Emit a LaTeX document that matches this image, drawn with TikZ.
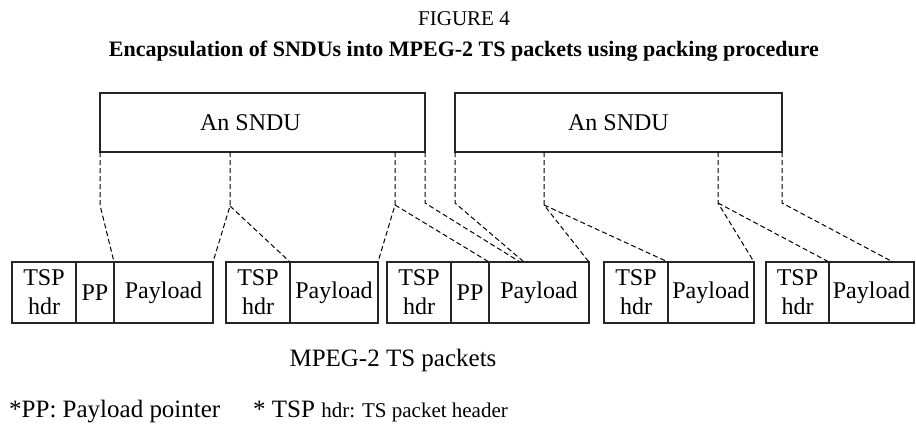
\documentclass[tikz,border=0pt]{standalone}
\usepackage{fontspec}
\setmainfont{Liberation Serif}
\usepackage{tikz}
\usetikzlibrary{positioning}

\newcommand\pktfont{\fontsize{24}{29}\selectfont}
\newcommand\notefont{\fontsize{25}{30}\selectfont}

\begin{document}
\begin{tikzpicture}[
        x=1pt, y=-1pt,
        node distance=0pt,
        sndu/.style={rectangle, draw=black!85, line width=2.3pt, outer sep=0pt, inner sep=0pt, minimum height=59pt, font=\pktfont},
        field/.style={rectangle, draw=black!85, line width=2.3pt, outer sep=0pt, inner sep=0pt, minimum height=61pt, align=center, font=\pktfont},
        map/.style={draw=black, dash pattern=on 5pt off 3pt, line width=1pt}
    ]
        \useasboundingbox (0,0) rectangle (916,426);

        % Captions
        \node[anchor=base, font=\fontsize{21}{25}\selectfont] (fig) at (464,25) {FIGURE 4};
        \node[anchor=base, font=\bfseries\fontsize{22}{26}\selectfont] (title) at (464,56) {Encapsulation of SNDUs into MPEG-2 TS packets using packing procedure};

        % SNDUs
        \node[sndu, minimum width=325pt] (sndu1) at (262.5,122.5) {An SNDU\hspace*{24pt}};
        \node[sndu, minimum width=327pt] (sndu2) at (618.5,122.5) {An SNDU};

        % TS packets
        \node[field, minimum width=64pt] (tsp1) at (44,292.5) {TSP\\hdr};
        \node[field, minimum width=38pt, right=of tsp1] (pp1) {PP};
        \node[field, minimum width=99pt, right=of pp1] (pl1) {Payload};

        \node[field, minimum width=64pt, right=13pt of pl1] (tsp2) {TSP\\hdr};
        \node[field, minimum width=88pt, right=of tsp2] (pl2) {Payload};

        \node[field, minimum width=64pt, right=9pt of pl2] (tsp3) {TSP\\hdr};
        \node[field, minimum width=38pt, right=of tsp3] (pp3) {PP};
        \node[field, minimum width=100pt, right=of pp3] (pl3) {Payload};

        \node[field, minimum width=64pt, right=15pt of pl3] (tsp4) {TSP\\hdr};
        \node[field, minimum width=86pt, right=of tsp4] (pl4) {Payload};

        \node[field, minimum width=63pt, right=12pt of pl4] (tsp5) {TSP\\hdr};
        \node[field, minimum width=85pt, right=of tsp5] (pl5) {Payload};

        % Bends and free ends
        \coordinate (a0) at (100,205);
        \coordinate (a1) at (230,206);
        \coordinate (a2) at (395,205);
        \coordinate (a3) at (425,203);
        \coordinate (b0) at (455,203);
        \coordinate (b1) at (544,205);
        \coordinate (b2) at (718,203);
        \coordinate (b3) at (782,203);
        \coordinate (e1) at (520,262);
        \coordinate (e2) at (524,262);
        \coordinate (e3) at (893,262);

        % Mapping lines
        \draw[map] (a0 |- sndu1.south) -- (a0) -- (pl1.north west);
        \draw[map] (a1 |- sndu1.south) -- (a1) -- (pl1.north east);
        \draw[map] (a1) -- (pl2.north west);
        \draw[map] (a2 |- sndu1.south) -- (a2) -- (pl2.north east);
        \draw[map] (a2) -- (pl3.north west);
        \draw[map] (a3 |- sndu1.south) -- (a3) -- (e1);
        \draw[map] (b0 |- sndu2.south) -- (b0) -- (e2);
        \draw[map] (b1 |- sndu2.south) -- (b1) -- (pl3.north east);
        \draw[map] (b1) -- (pl4.north west);
        \draw[map] (b2 |- sndu2.south) -- (b2) -- (pl4.north east);
        \draw[map] (b2) -- (pl5.north west);
        \draw[map] (b3 |- sndu2.south) -- (b3) -- (e3);

        % Notes
        \node[anchor=base, font=\notefont] (mpeg) at (393,366) {MPEG-2 TS packets};
        \node[anchor=base west, inner sep=0pt, font=\notefont] (note1) at (9,417) {*PP: Payload pointer};
        \node[anchor=base west, inner sep=0pt, font=\notefont] (note2) at (253,417) {* TSP {\fontsize{21}{25}\selectfont hdr: TS packet header}};
    \end{tikzpicture}
\end{document}
